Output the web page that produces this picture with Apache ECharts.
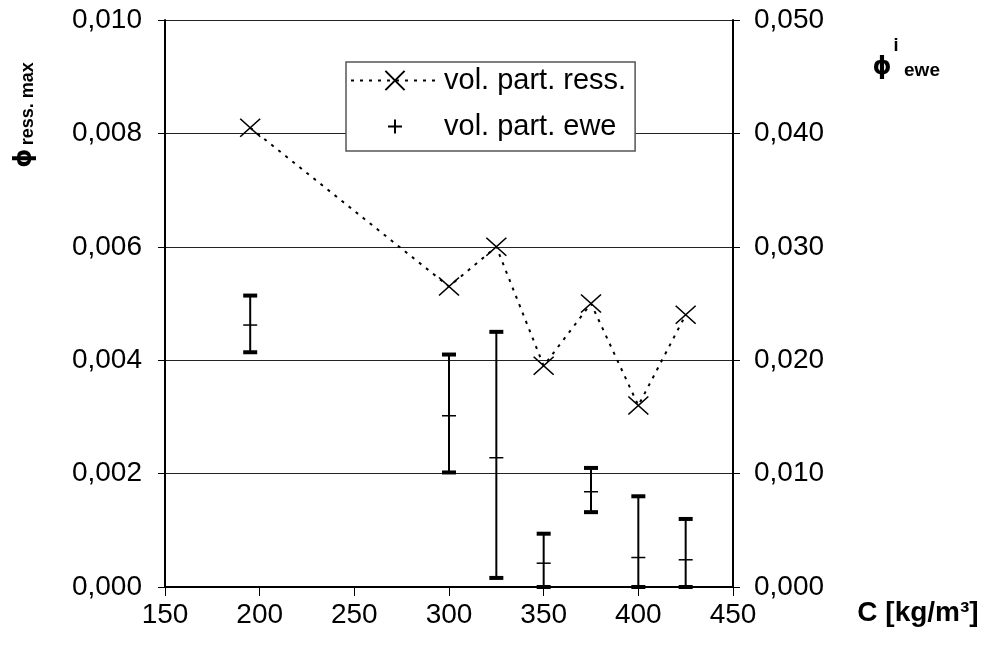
<!DOCTYPE html>
<html>
<head>
<meta charset="utf-8">
<script src="https://cdn.jsdelivr.net/npm/echarts@6/dist/echarts.min.js"></script>
<style>
  html, body { margin: 0; padding: 0; background: #fff; }
  #chart { width: 985px; height: 648px; }
</style>
</head>
<body>
<div id="chart"></div>
<script>
// concentration C [kg/m3]
var concC = [195, 300, 325, 350, 375, 400, 425];
// phi ress. max (left axis)
var ressMax = [0.0081, 0.0053, 0.0060, 0.0039, 0.0050, 0.0032, 0.0048];
// phi i ewe (right axis): low / high / middle
var eweLow = [0.0207, 0.0101, 0.0008, 0.0000, 0.0066, 0.0000, 0.0000];
var eweHigh = [0.0257, 0.0205, 0.0225, 0.0047, 0.0105, 0.0080, 0.0060];
var eweMid = [0.0231, 0.0151, 0.0114, 0.0021, 0.0084, 0.0026, 0.0024];

var FONT = '"Liberation Sans", Arial, sans-serif';
var PHI_FONT = '"DejaVu Sans", sans-serif';

function comma(v) {
	return v.toFixed(3).replace('.', ',');
}

var ressData = [];
var eweData = [];
for (var i = 0; i < concC.length; i++) {
	ressData.push([concC[i], ressMax[i]]);
	eweData.push([concC[i], eweLow[i], eweHigh[i], eweMid[i]]);
}

function renderBar(params, api) {
	var lo = api.coord([api.value(0), api.value(1)]);
	var hi = api.coord([api.value(0), api.value(2)]);
	var mid = api.coord([api.value(0), api.value(3)]);
	var w = 7;
	return {
		type: 'group',
		children: [
			{type: 'line', shape: {x1: hi[0], y1: hi[1], x2: lo[0], y2: lo[1]}, style: {stroke: '#000', lineWidth: 2}},
			{type: 'line', shape: {x1: hi[0] - w, y1: hi[1], x2: hi[0] + w, y2: hi[1]}, style: {stroke: '#000', lineWidth: 4}},
			{type: 'line', shape: {x1: lo[0] - w, y1: lo[1], x2: lo[0] + w, y2: lo[1]}, style: {stroke: '#000', lineWidth: 4}},
			{type: 'line', shape: {x1: mid[0] - w, y1: mid[1], x2: mid[0] + w, y2: mid[1]}, style: {stroke: '#000', lineWidth: 1.5}}
		]
	};
}

var chart = echarts.init(document.getElementById('chart'));
var option = {
	backgroundColor: '#fff',
	animation: false,
	textStyle: {fontFamily: FONT, color: '#000'},
	grid: {left: 165, right: 252, top: 20, bottom: 61},
	legend: {
		orient: 'vertical',
		left: 346,
		top: 62,
		padding: [4, 9, 10, 4],
		itemGap: 17,
		itemWidth: 88,
		itemHeight: 24,
		backgroundColor: '#fff',
		borderColor: '#555',
		borderWidth: 1.5,
		textStyle: {fontSize: 29, color: '#000', fontFamily: FONT},
		data: [
			{name: 'vol. part. ress.'},
			{
				name: 'vol. part. ewe',
				icon: 'path://M0,0M24,24M12,5L12,19M5,12L19,12',
				itemStyle: {color: 'rgba(0,0,0,0)', borderColor: '#000', borderWidth: 2}
			}
		]
	},
	xAxis: {
		type: 'value',
		min: 150,
		max: 450,
		interval: 50,
		axisLine: {lineStyle: {color: '#000', width: 2}},
		axisTick: {length: 9, lineStyle: {color: '#000', width: 1}},
		axisLabel: {fontSize: 28, color: '#000', margin: 14},
		splitLine: {show: false}
	},
	yAxis: [
		{
			type: 'value',
			min: 0,
			max: 0.01,
			interval: 0.002,
			axisLine: {show: true, lineStyle: {color: '#000', width: 2}},
			axisTick: {show: true, length: 7, lineStyle: {color: '#000', width: 1}},
			axisLabel: {fontSize: 28, color: '#000', margin: 23, formatter: comma},
			splitLine: {show: true, lineStyle: {color: '#222', width: 1}}
		},
		{
			type: 'value',
			position: 'right',
			min: 0,
			max: 0.05,
			interval: 0.01,
			axisLine: {show: true, lineStyle: {color: '#000', width: 2}},
			axisTick: {show: true, length: 7, lineStyle: {color: '#000', width: 1}},
			axisLabel: {fontSize: 28, color: '#000', margin: 21, formatter: comma},
			splitLine: {show: false}
		}
	],
	series: [
		{
			name: 'vol. part. ress.',
			type: 'line',
			data: ressData,
			symbol: 'path://M0,0L20,18M20,0L0,18',
			symbolSize: [20, 18],
			itemStyle: {color: '#000', borderColor: '#000', borderWidth: 1.5},
			lineStyle: {color: '#000', width: 2, type: [3, 6]},
			z: 3
		},
		{
			name: 'vol. part. ewe',
			type: 'custom',
			yAxisIndex: 1,
			data: eweData,
			color: '#000',
			encode: {x: 0, y: [1, 2, 3]},
			renderItem: renderBar,
			z: 4
		}
	],
	graphic: [
		{
			type: 'text',
			x: 25,
			y: 115,
			rotation: Math.PI / 2,
			style: {
				text: '{a|ϕ} {b|ress. max}',
				align: 'center',
				verticalAlign: 'middle',
				rich: {
					a: {fontSize: 24, fontWeight: 'bold', fontFamily: PHI_FONT, fill: '#000'},
					b: {fontSize: 18, fontWeight: 'bold', fontFamily: FONT, fill: '#000', padding: [6, 0, 0, 0]}
				}
			}
		},
		{
			type: 'text', x: 882, y: 68,
			style: {text: 'ϕ', fontSize: 24, fontWeight: 'bold', fontFamily: PHI_FONT, fill: '#000', align: 'center', verticalAlign: 'middle'}
		},
		{
			type: 'text', x: 896, y: 46,
			style: {text: 'i', fontSize: 18, fontWeight: 'bold', fontFamily: FONT, fill: '#000', align: 'center', verticalAlign: 'middle'}
		},
		{
			type: 'text', x: 922, y: 71,
			style: {text: 'ewe', fontSize: 19, fontWeight: 'bold', fontFamily: FONT, fill: '#000', align: 'center', verticalAlign: 'middle'}
		},
		{
			type: 'text', x: 918, y: 613,
			style: {text: 'C [kg/m³]', fontSize: 28, fontWeight: 'bold', fontFamily: FONT, fill: '#000', align: 'center', verticalAlign: 'middle'}
		}
	]
};
chart.setOption(option);
</script>
</body>
</html>
